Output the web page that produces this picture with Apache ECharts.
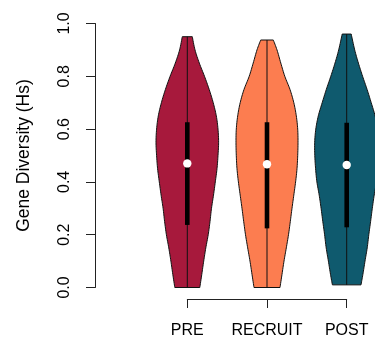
<!DOCTYPE html>
<html>
<head>
<meta charset="utf-8">
<script src="https://cdn.jsdelivr.net/npm/echarts@6/dist/echarts.min.js"></script>
<style>
  html, body { margin: 0; padding: 0; background: #fff; }
  #chart { width: 375px; height: 341px; }
</style>
</head>
<body>
<div id="chart"></div>
<script>
// Groups along the x axis
const categories = ['PRE', 'RECRUIT', 'POST'];

// Kernel density profiles: gene diversity level -> estimated density
const preLevels = [0.00, 0.05, 0.10, 0.15, 0.20, 0.25, 0.30, 0.35, 0.40, 0.45, 0.50, 0.55, 0.60, 0.65, 0.70, 0.75, 0.80, 0.85, 0.90, 0.95];
const preDensity = [0.625, 0.725, 0.82, 0.925, 1.045, 1.135, 1.21, 1.31, 1.40, 1.485, 1.535, 1.565, 1.535, 1.45, 1.295, 1.095, 0.86, 0.60, 0.385, 0.25];

const recruitLevels = [0.00, 0.05, 0.10, 0.15, 0.20, 0.25, 0.30, 0.35, 0.40, 0.45, 0.50, 0.55, 0.60, 0.65, 0.70, 0.75, 0.80, 0.85, 0.90, 0.9375];
const recruitDensity = [0.65, 0.75, 0.85, 0.965, 1.075, 1.165, 1.25, 1.34, 1.43, 1.50, 1.535, 1.55, 1.535, 1.465, 1.34, 1.15, 0.89, 0.69, 0.50, 0.315];

const postLevels = [0.01, 0.05, 0.10, 0.15, 0.20, 0.25, 0.30, 0.35, 0.40, 0.45, 0.50, 0.55, 0.60, 0.65, 0.70, 0.75, 0.80, 0.85, 0.90, 0.96];
const postDensity = [0.715, 0.81, 0.915, 1.025, 1.105, 1.195, 1.28, 1.375, 1.49, 1.555, 1.595, 1.60, 1.545, 1.42, 1.225, 1.02, 0.795, 0.585, 0.40, 0.225];

// Summary statistics: [min, lower quartile, median, upper quartile, max]
const preStats = [0.00, 0.237, 0.470, 0.626, 0.950];
const recruitStats = [0.00, 0.224, 0.467, 0.626, 0.9375];
const postStats = [0.01, 0.228, 0.464, 0.624, 0.960];

const groupColors = ['#A7193C', '#FC7D50', '#0F5A6E'];

// Density -> half width in x-axis units
const densityScale = 0.251;
const boxHalfWidth = 2.3;   // px
const medianRadius = 4.2;   // px

const groups = [
  { levels: preLevels, density: preDensity, stats: preStats },
  { levels: recruitLevels, density: recruitDensity, stats: recruitStats },
  { levels: postLevels, density: postDensity, stats: postStats }
];

// Catmull-Rom resampling of an outline (pixel points) so the edge is drawn as a smooth curve
function smoothEdge(pts, steps) {
  const out = [];
  const n = pts.length;
  for (let i = 0; i < n - 1; i++) {
    const p0 = pts[Math.max(i - 1, 0)], p1 = pts[i], p2 = pts[i + 1], p3 = pts[Math.min(i + 2, n - 1)];
    for (let s = 0; s < steps; s++) {
      const t = s / steps, t2 = t * t, t3 = t2 * t;
      const f = (a, b, c, d) => 0.5 * ((2 * b) + (-a + c) * t + (2 * a - 5 * b + 4 * c - d) * t2 + (-a + 3 * b - 3 * c + d) * t3);
      out.push([f(p0[0], p1[0], p2[0], p3[0]), f(p0[1], p1[1], p2[1], p3[1])]);
    }
  }
  out.push(pts[n - 1]);
  return out;
}

function violinSeries(g, idx) {
  const pos = idx + 1;
  return {
    type: 'custom',
    clip: false,
    data: [[pos]],
    renderItem: function (params, api) {
      const right = [], left = [];
      for (let i = 0; i < g.levels.length; i++) {
        right.push(api.coord([pos + g.density[i] * densityScale, g.levels[i]]));
      }
      for (let i = g.levels.length - 1; i >= 0; i--) {
        left.push(api.coord([pos - g.density[i] * densityScale, g.levels[i]]));
      }
      const outline = smoothEdge(right, 8).concat(smoothEdge(left, 8));
      const s = g.stats;
      const lo = api.coord([pos, s[0]]);
      const q1 = api.coord([pos, s[1]]);
      const med = api.coord([pos, s[2]]);
      const q3 = api.coord([pos, s[3]]);
      const hi = api.coord([pos, s[4]]);
      return {
        type: 'group',
        children: [
          {
            type: 'polygon',
            shape: { points: outline },
            style: { fill: groupColors[idx], stroke: '#111', lineWidth: 1 }
          },
          {
            type: 'line',
            shape: { x1: lo[0], y1: lo[1], x2: hi[0], y2: hi[1] },
            style: { stroke: '#111', lineWidth: 1 }
          },
          {
            type: 'rect',
            shape: { x: q3[0] - boxHalfWidth, y: q3[1], width: boxHalfWidth * 2, height: q1[1] - q3[1] },
            style: { fill: '#000' }
          },
          {
            type: 'circle',
            shape: { cx: med[0], cy: med[1], r: medianRadius },
            style: { fill: '#fff' }
          }
        ]
      };
    }
  };
}

const chart = echarts.init(document.getElementById('chart'), null, { renderer: 'canvas' });
const font = '"Liberation Sans", Arial, Helvetica, sans-serif';

chart.setOption({
  animation: false,
  backgroundColor: '#fff',
  grid: { left: 187.3, right: 28.3, top: 23.5, bottom: 53.5, containLabel: false },
  xAxis: {
    type: 'value',
    min: 1, max: 3, interval: 1,
    offset: 11.5,
    axisLine: { show: true, onZero: false, lineStyle: { color: '#222', width: 1 } },
    axisTick: { show: true, length: 9, lineStyle: { color: '#222', width: 1 } },
    axisLabel: {
      margin: 24,
      fontFamily: font, fontSize: 16, color: '#000',
      formatter: function (v) { return categories[Math.round(v) - 1] || ''; }
    },
    splitLine: { show: false }
  },
  yAxis: {
    type: 'value',
    min: 0, max: 1, interval: 0.2,
    offset: 92.3,
    name: 'Gene Diversity (Hs)',
    nameLocation: 'middle',
    nameRotate: 90,
    nameGap: 62,
    nameTextStyle: { fontFamily: font, fontSize: 17.5, color: '#000' },
    axisLine: { show: true, onZero: false, lineStyle: { color: '#222', width: 1 } },
    axisTick: { show: true, length: 9, lineStyle: { color: '#222', width: 1 } },
    axisLabel: {
      rotate: 90,
      margin: 22.5,
      fontFamily: font, fontSize: 16, color: '#000',
      formatter: function (v) { return v.toFixed(1); }
    },
    splitLine: { show: false }
  },
  series: groups.map(violinSeries)
});
</script>
</body>
</html>
